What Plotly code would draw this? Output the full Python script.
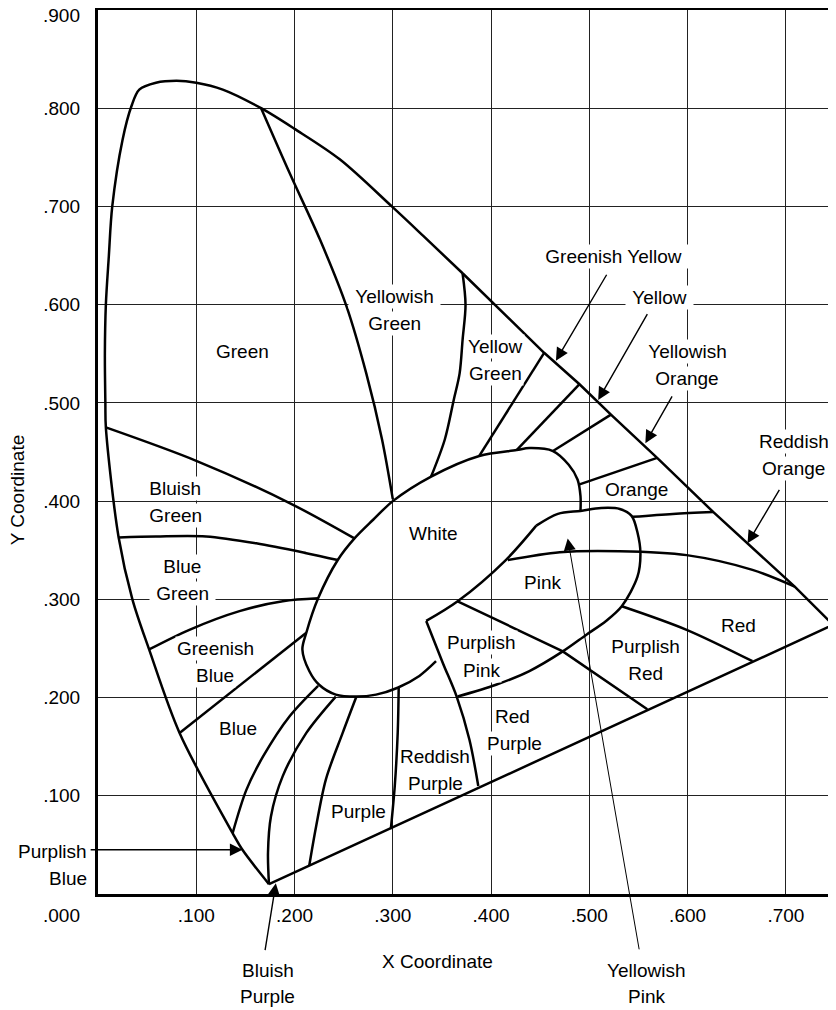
import plotly.graph_objects as go

FONT = "Liberation Sans, Arial, Helvetica, sans-serif"

# ---------------- data (CIE x, y chromaticity) ----------------
# spectral locus, curved part (from violet end up and over the top)
locus_curve_x = [0.174, 0.147, 0.137, 0.083, 0.052, 0.035, 0.021, 0.008, 0.0075, 0.007, 0.008, 0.011,
                 0.0145, 0.025, 0.034, 0.042, 0.059, 0.080, 0.100, 0.127, 0.166, 0.200, 0.246, 0.299,
                 0.331, 0.371]
locus_curve_y = [0.010, 0.045, 0.062, 0.164, 0.249, 0.300, 0.363, 0.475, 0.500, 0.550, 0.600, 0.649,
                 0.700, 0.768, 0.802, 0.819, 0.826, 0.828, 0.826, 0.819, 0.800, 0.779, 0.748, 0.700,
                 0.670, 0.632]
# straight part of the locus to the red end, then the purple line back
locus_edge_x = [0.371, 0.454, 0.490, 0.522, 0.569, 0.626, 0.709, 0.748, 0.174]
locus_edge_y = [0.632, 0.551, 0.519, 0.488, 0.444, 0.389, 0.313, 0.274, 0.010]

# White region outline
white_x = [0.344, 0.327, 0.305, 0.283, 0.263, 0.242, 0.225, 0.215, 0.208, 0.212, 0.224, 0.244, 0.261,
           0.280, 0.300, 0.339, 0.388, 0.426, 0.439, 0.463, 0.479, 0.488, 0.491, 0.491]
white_y = [0.237, 0.222, 0.210, 0.203, 0.201, 0.203, 0.213, 0.227, 0.249, 0.266, 0.301, 0.340, 0.362,
           0.381, 0.400, 0.425, 0.446, 0.452, 0.454, 0.451, 0.437, 0.422, 0.405, 0.390]

# White / Pink edge and the Yellowish Pink + Pink outline
white_pink_x = [0.334, 0.366, 0.415, 0.446]
white_pink_y = [0.278, 0.298, 0.340, 0.375]
pink_outline_x = [0.446, 0.468, 0.491, 0.512, 0.531, 0.543, 0.549, 0.552, 0.549, 0.533, 0.517, 0.497,
                  0.473, 0.439, 0.405, 0.366]
pink_outline_y = [0.375, 0.387, 0.390, 0.393, 0.392, 0.385, 0.368, 0.347, 0.323, 0.293, 0.278, 0.264,
                  0.247, 0.227, 0.213, 0.201]

# curved boundaries between colour names
green_ygreen = ([0.166, 0.195, 0.226, 0.253, 0.273, 0.289, 0.300],
                [0.800, 0.734, 0.666, 0.598, 0.530, 0.463, 0.402])
ygreen_yellowgreen = ([0.371, 0.374, 0.371, 0.368, 0.362, 0.353, 0.339],
                      [0.632, 0.600, 0.564, 0.530, 0.503, 0.463, 0.425])
orange_rorange = ([0.626, 0.585, 0.544], [0.389, 0.387, 0.384])
pink_top = ([0.417, 0.470, 0.531, 0.599, 0.666, 0.709], [0.340, 0.348, 0.349, 0.345, 0.330, 0.313])
red_pred = ([0.533, 0.599, 0.666], [0.293, 0.269, 0.237])
ppink_left = ([0.334, 0.351, 0.365, 0.378, 0.387], [0.278, 0.235, 0.201, 0.157, 0.110])
purple_rpurple = ([0.306, 0.305, 0.302, 0.298], [0.210, 0.164, 0.110, 0.066])
bpurple_purple = ([0.263, 0.249, 0.232, 0.222, 0.215], [0.201, 0.164, 0.117, 0.069, 0.029])
pblue_bpurple = ([0.242, 0.212, 0.188, 0.176, 0.173, 0.174], [0.201, 0.164, 0.120, 0.079, 0.042, 0.010])
blue_pblue = ([0.224, 0.195, 0.168, 0.151, 0.137], [0.212, 0.181, 0.140, 0.106, 0.062])
bgreen_gblue = ([0.052, 0.093, 0.144, 0.188, 0.224], [0.249, 0.269, 0.288, 0.298, 0.301])
blgreen_bgreen = ([0.021, 0.059, 0.110, 0.161, 0.212, 0.244], [0.363, 0.364, 0.364, 0.357, 0.347, 0.340])
green_blgreen = ([0.008, 0.100, 0.195, 0.261], [0.475, 0.441, 0.398, 0.362])

# straight boundaries
yg_gy = ([0.454, 0.388], [0.551, 0.446])
gy_yellow = ([0.490, 0.426], [0.519, 0.452])
yellow_yo = ([0.522, 0.463], [0.488, 0.451])
yo_orange = ([0.569, 0.490], [0.444, 0.417])
pink_ppink = ([0.366, 0.473, 0.559], [0.298, 0.247, 0.188])
gblue_blue = ([0.083, 0.212], [0.164, 0.266])

curved = [green_ygreen, ygreen_yellowgreen, orange_rorange, pink_top, red_pred, ppink_left,
          purple_rpurple, bpurple_purple, pblue_bpurple, blue_pblue, bgreen_gblue, blgreen_bgreen,
          green_blgreen]
straight = [yg_gy, gy_yellow, yellow_yo, yo_orange, pink_ppink, gblue_blue]

# axis ticks
x_ticks = [0.1, 0.2, 0.3, 0.4, 0.5, 0.6, 0.7]
x_tick_labels = [".100", ".200", ".300", ".400", ".500", ".600", ".700"]
y_ticks = [0.1, 0.2, 0.3, 0.4, 0.5, 0.6, 0.7, 0.8]
y_tick_labels = [".100", ".200", ".300", ".400", ".500", ".600", ".700", ".800"]

# region names (one entry per text line)
label_text = ["Green", "Yellowish", "Green", "Yellow", "Green", "Greenish Yellow", "Yellow",
              "Yellowish", "Orange", "Reddish", "Orange", "Orange", "White", "Pink",
              "Bluish", "Green", "Blue", "Green", "Greenish", "Blue", "Blue", "Purple",
              "Reddish", "Purple", "Red", "Purple", "Purplish", "Pink", "Purplish", "Red", "Red"]
label_x = [0.147, 0.302, 0.302, 0.405, 0.405, 0.525, 0.571, 0.5995, 0.5995, 0.708, 0.708, 0.548,
           0.3415, 0.4525, 0.0785, 0.0785, 0.086, 0.086, 0.120, 0.119, 0.1425, 0.265, 0.343, 0.343,
           0.422, 0.424, 0.390, 0.390, 0.557, 0.557, 0.652]
label_y = [0.552, 0.608, 0.581, 0.5575, 0.530, 0.649, 0.607, 0.552, 0.525, 0.461, 0.433, 0.412,
           0.367, 0.317, 0.4125, 0.385, 0.333, 0.306, 0.250, 0.2225, 0.169, 0.0835, 0.1395, 0.1125,
           0.181, 0.153, 0.256, 0.2275, 0.2515, 0.225, 0.273]
# white box behind the label (interrupts grid lines) and whether it gets extra side padding
label_bg = [False, True, True, True, True, True, True, True, True, True, True, False, False, False,
            True, True, True, True, True, True, False, False, False, False, True, True, True, True,
            True, True, False]
label_pad = [False, True, True, False, False, True, True, True, True, False, False, False, False, False,
             True, True, True, True, False, False, False, False, False, False, False, False, False, False,
             True, True, False]

# arrows: head position (data) and tail offset (pixels)
arrow_head_x = [0.466, 0.509, 0.557, 0.661, 0.478, 0.147, 0.181]
arrow_head_y = [0.543, 0.503, 0.459, 0.357, 0.362, 0.045, 0.011]
arrow_dx = [51.6, 50.0, 27.6, 32.7, 71.7, -153.3, -11.0]
arrow_dy = [-87.4, -87.4, -48.3, -55.0, 412.4, 0.0, 68.4]
arrow_w = [1.4, 1.4, 1.4, 1.4, 1.0, 1.4, 1.4]

# names and corner tick labels outside the plot (paper coordinates)
outer_text = ["Purplish", "Blue", "Bluish", "Purple", "Yellowish", "Pink", ".000", ".900"]
outer_x = [-0.0118, -0.0118, 0.230, 0.230, 0.7445, 0.7445, -0.0215, -0.0215]
outer_y = [0.0479, 0.0173, -0.086, -0.1162, -0.086, -0.1154, -0.0238, 0.9934]
outer_anchor = ["right", "right", "center", "center", "center", "center", "right", "right"]

# ---------------- figure ----------------
fig = go.Figure()


def add_line(xs, ys, smooth, width=2.5):
    fig.add_trace(go.Scatter(
        x=xs, y=ys, mode="lines",
        line=dict(color="black", width=width, shape="spline" if smooth else "linear", smoothing=0.9),
        hoverinfo="skip", showlegend=False, cliponaxis=False))


add_line(locus_curve_x, locus_curve_y, True)
add_line(locus_edge_x, locus_edge_y, False)
add_line(white_x, white_y, True)
add_line(white_pink_x, white_pink_y, True)
add_line(pink_outline_x, pink_outline_y, True)
for bx, by in curved:
    add_line(bx, by, True)
for bx, by in straight:
    add_line(bx, by, False)

NB = "\u00a0"
annotations = []
for t, x, y, bg, pad in zip(label_text, label_x, label_y, label_bg, label_pad):
    annotations.append(dict(
        x=x, y=y, xref="x", yref="y", text=(NB + t + NB) if pad else t, showarrow=False,
        font=dict(family=FONT, size=19, color="black"),
        bgcolor="white" if bg else "rgba(0,0,0,0)", borderpad=1,
        xanchor="center", yanchor="middle"))

for hx, hy, dx, dy, w in zip(arrow_head_x, arrow_head_y, arrow_dx, arrow_dy, arrow_w):
    annotations.append(dict(
        x=hx, y=hy, xref="x", yref="y", ax=dx, ay=dy, text="", showarrow=True,
        arrowhead=2, arrowsize=1.8 if w > 1.2 else 2.4, arrowwidth=w, arrowcolor="black",
        standoff=0, startstandoff=0))

for t, x, y, a in zip(outer_text, outer_x, outer_y, outer_anchor):
    annotations.append(dict(
        x=x, y=y, xref="paper", yref="paper", text=t, showarrow=False,
        font=dict(family=FONT, size=19, color="black"), xanchor=a, yanchor="middle"))

annotations.append(dict(x=0.3826, y=-0.0764, xref="paper", yref="paper", text="X Coordinate",
                        showarrow=False, font=dict(family=FONT, size=19, color="black"),
                        xanchor="left", yanchor="middle"))
annotations.append(dict(x=-0.1095, y=0.457, xref="paper", yref="paper", text="Y Coordinate",
                        showarrow=False, textangle=-90, font=dict(family=FONT, size=19, color="black"),
                        xanchor="center", yanchor="middle"))

# the page body adds an 8px margin, so the figure is 8px smaller and the
# margins are reduced by 8px to keep the plot area in the same place
fig.update_layout(
    width=828, height=1002,
    margin=dict(l=90, r=1, t=2, b=116, autoexpand=False),
    plot_bgcolor="white", paper_bgcolor="white",
    font=dict(family=FONT, size=19, color="black"),
    annotations=annotations,
    showlegend=False,
)
fig.update_xaxes(range=[0, 0.75], tickvals=x_ticks, ticktext=x_tick_labels, showgrid=True,
                 gridcolor="#222222", gridwidth=1, zeroline=False, showline=True, linecolor="black",
                 linewidth=3, mirror=True, ticks="", ticklabelstandoff=2, fixedrange=True)
fig.update_yaxes(range=[0, 0.9], tickvals=y_ticks, ticktext=y_tick_labels, showgrid=True,
                 gridcolor="#222222", gridwidth=1, zeroline=False, showline=True, linecolor="black",
                 linewidth=3, mirror=True, ticks="", ticklabelstandoff=11, fixedrange=True)

fig.write_html("out.html")
